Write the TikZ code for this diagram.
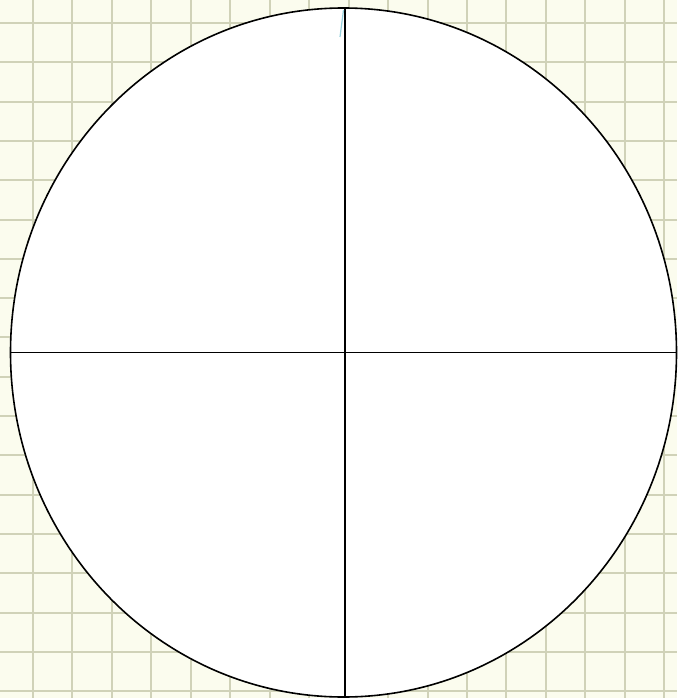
\documentclass[tikz,border=0pt]{standalone}
\usepackage{tikz}
\usetikzlibrary{positioning, calc}
\usepackage[dvipsnames, svgnames, table]{xcolor}

\definecolor{paper}{RGB}{251,252,238}
\definecolor{gridcol}{RGB}{208,210,184}
\definecolor{penblue}{RGB}{150,208,220}

\begin{document}
\begin{tikzpicture}[x=1pt, y=-1pt,
    gridline/.style={gridcol, line width=2pt},
    rim/.style={black, line width=1.6pt, fill=white},
    spoke/.style={black, line width=1.6pt}]
    % Paper
    \fill[paper] (0,0) rectangle (677,698);
    \useasboundingbox (0,0) rectangle (677,698);
    % Grid
    \foreach \k in {0,...,16}
        \draw[gridline] ({33+39.45*\k},0) -- ({33+39.45*\k},698);
    \foreach \k in {0,...,17}
        \draw[gridline] (0,{23+39.3*\k}) -- (677,{23+39.3*\k});

    % Circle
    \coordinate (c) at (343.5,352.5);
    \draw[rim] (c) ellipse [x radius=333, y radius=344.5];
    \coordinate (top) at (345,8);
    \coordinate (bottom) at (345,697);
    \coordinate (left) at (10,352.5);
    \coordinate (right) at (677,352.5);

    % Cross lines
    \draw[spoke] (top) -- (bottom);
    \draw[spoke] (left) -- (right);

    % Pen stroke
    \draw[penblue, line width=1.2pt] (343.5,10) -- (340,37);
\end{tikzpicture}
\end{document}
